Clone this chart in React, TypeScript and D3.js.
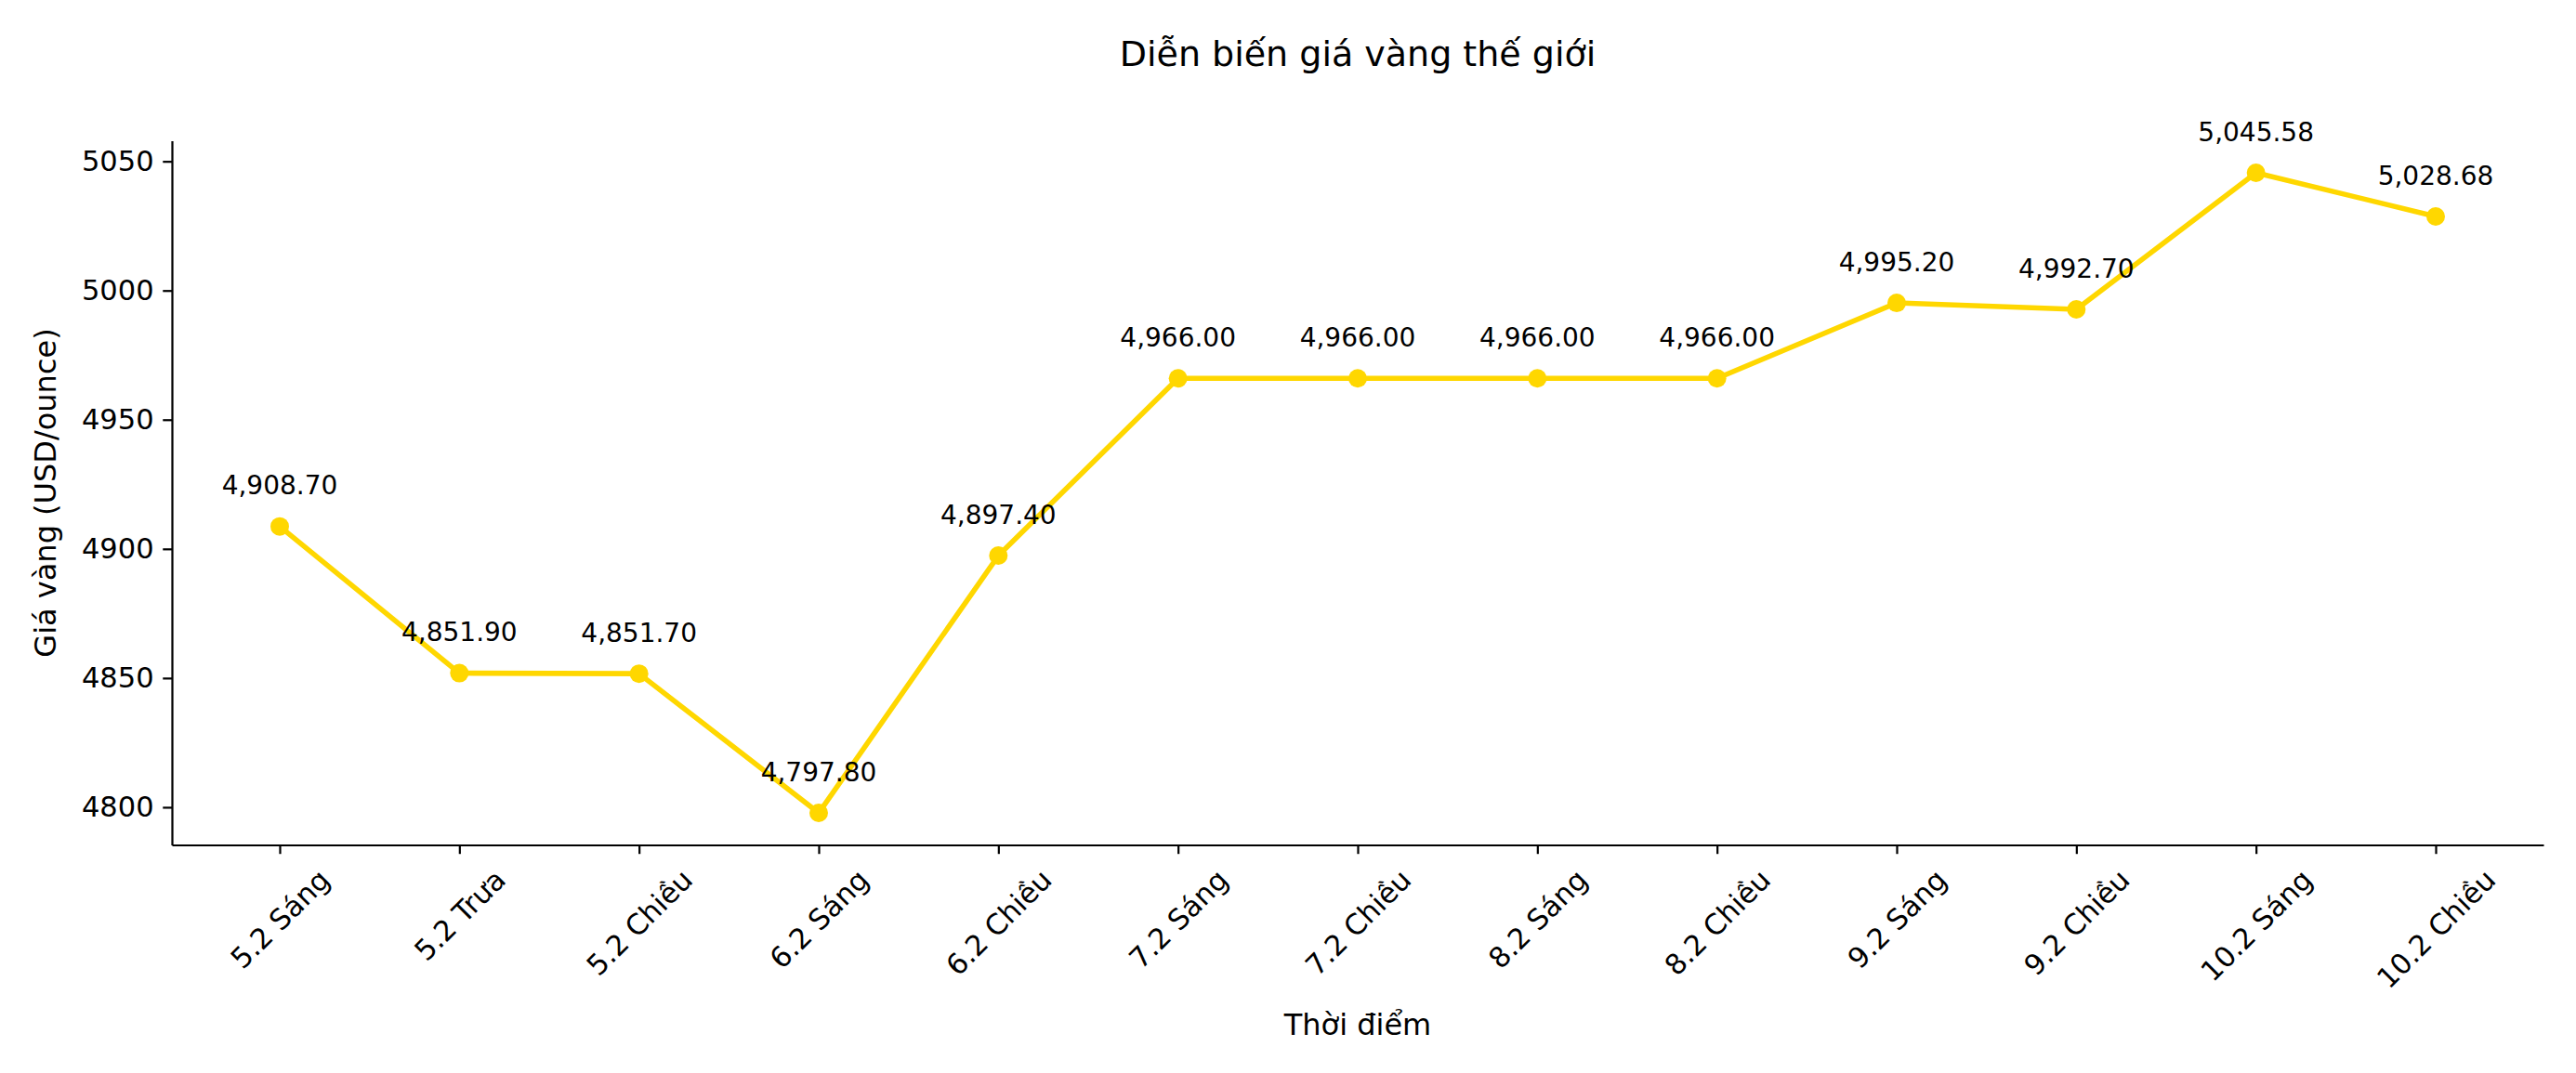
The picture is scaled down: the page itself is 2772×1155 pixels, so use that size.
import * as d3 from 'd3'
import { useEffect, useRef } from 'react'

const categories = [
    '5.2 Sáng', '5.2 Trưa', '5.2 Chiều', '6.2 Sáng', '6.2 Chiều', '7.2 Sáng', '7.2 Chiều',
    '8.2 Sáng', '8.2 Chiều', '9.2 Sáng', '9.2 Chiều', '10.2 Sáng', '10.2 Chiều',
]
const prices = [
    4908.70, 4851.90, 4851.70, 4797.80, 4897.40, 4966.00, 4966.00,
    4966.00, 4966.00, 4995.20, 4992.70, 5045.58, 5028.68,
]
const yTicks = [4800, 4850, 4900, 4950, 5000, 5050]

const W = 2772
const H = 1155
const margin = { top: 151.5, right: 35, bottom: 245.5, left: 185 }
const FONT = '"DejaVu Sans", sans-serif'
const GOLD = '#FFD700'
const pt = 200 / 72

const App = () => {
    const svgRef = useRef<SVGSVGElement | null>(null)

    useEffect(() => {
        const svg = d3.select(svgRef.current)
        svg.selectAll('*').remove()

        const x = d3.scalePoint<string>()
            .domain(categories)
            .range([margin.left, W - margin.right])
            .padding(0.6)

        const lo = d3.min(prices) as number
        const hi = d3.max(prices) as number
        const pad = (hi - lo) * 0.05
        const y = d3.scaleLinear()
            .domain([lo - pad, hi + pad])
            .range([H - margin.bottom, margin.top])

        // title
        svg.append('text')
            .attr('x', (margin.left + W - margin.right) / 2)
            .attr('y', 71)
            .attr('text-anchor', 'middle')
            .style('font-family', FONT)
            .style('font-size', '38px')
            .text('Diễn biến giá vàng thế giới')

        // y axis
        const yAxis = svg.append('g')
            .attr('transform', `translate(${margin.left},0)`)
            .call(d3.axisLeft(y).tickValues(yTicks).tickFormat(d3.format('d')).tickSize(3.5 * pt).tickPadding(3.5 * pt).tickSizeOuter(0))
        yAxis.select('.domain').attr('stroke-width', 0.8 * pt)
        yAxis.selectAll('.tick line').attr('stroke-width', 0.8 * pt)
        yAxis.selectAll('.tick text')
            .style('font-family', FONT)
            .style('font-size', '30.5px')
            .attr('fill', '#000')

        // x axis
        const xAxis = svg.append('g')
            .attr('transform', `translate(0,${H - margin.bottom})`)
            .call(d3.axisBottom(x).tickSize(3.5 * pt).tickSizeOuter(0))
        xAxis.select('.domain').attr('stroke-width', 0.8 * pt)
        xAxis.selectAll('.tick line').attr('stroke-width', 0.8 * pt)
        const fs = 30.5
        const boxH = fs * 1.17
        const top0 = 7 * pt
        xAxis.selectAll<SVGTextElement, string>('.tick text')
            .style('font-family', FONT)
            .style('font-size', `${fs}px`)
            .attr('fill', '#000')
            .attr('text-anchor', 'middle')
            .attr('dy', '0.35em')
            .each(function () {
                const t = d3.select(this)
                const len = this.getComputedTextLength()
                const half = (len + boxH) / Math.SQRT2 / 2
                t.attr('y', null).attr('transform', `translate(0,${top0 + half}) rotate(-45)`)
            })

        // axis labels
        svg.append('text')
            .attr('x', (margin.left + W - margin.right) / 2)
            .attr('y', 1114)
            .attr('text-anchor', 'middle')
            .style('font-family', FONT)
            .style('font-size', '32px')
            .text('Thời điểm')

        svg.append('text')
            .attr('transform', `translate(60,${(margin.top + H - margin.bottom) / 2}) rotate(-90)`)
            .attr('text-anchor', 'middle')
            .style('font-family', FONT)
            .style('font-size', '32px')
            .text('Giá vàng (USD/ounce)')

        // line + markers
        const line = d3.line<number>()
            .x((_, i) => x(categories[i]) as number)
            .y(d => y(d))

        svg.append('path')
            .datum(prices)
            .attr('d', line)
            .attr('fill', 'none')
            .attr('stroke', GOLD)
            .attr('stroke-width', 2 * pt)
            .attr('stroke-linejoin', 'round')

        svg.append('g')
            .selectAll('circle')
            .data(prices)
            .enter()
            .append('circle')
            .attr('cx', (_, i) => x(categories[i]) as number)
            .attr('cy', d => y(d))
            .attr('r', 10)
            .attr('fill', GOLD)

        // value labels
        const fmt = d3.format(',.2f')
        svg.append('g')
            .selectAll('text')
            .data(prices)
            .enter()
            .append('text')
            .attr('x', (_, i) => x(categories[i]) as number)
            .attr('y', d => y(d) - 10 * pt - 6.6)
            .attr('text-anchor', 'middle')
            .style('font-family', FONT)
            .style('font-size', '28px')
            .text(d => fmt(d))
    }, [])

    return (
        <>
            <style>{'body{margin:0}'}</style>
            <svg ref={svgRef} width={W} height={H} style={{ display: 'block', background: '#fff' }} />
        </>
    )
}

export default App
